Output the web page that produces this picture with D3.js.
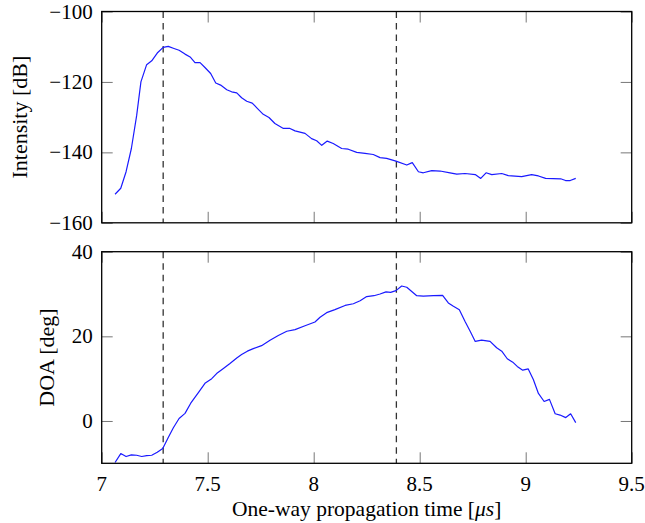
<!DOCTYPE html>
<html>
<head>
<meta charset="utf-8">
<script src="https://cdn.jsdelivr.net/npm/d3@7"></script>
<style>
  body { margin: 0; background: #fff; }
  text { font-family: "Liberation Serif", "Times New Roman", serif; fill: #000; }
</style>
</head>
<body>
<svg id="chart" width="645" height="523"></svg>
<script>
// top panel: intensity vs one-way time
const intensityTime = [7.063, 7.09, 7.115, 7.14, 7.165, 7.185, 7.212, 7.236, 7.262, 7.29,
  7.314, 7.341, 7.365, 7.393, 7.417, 7.44, 7.464, 7.487, 7.514, 7.538,
  7.561, 7.59, 7.613, 7.637, 7.66, 7.684, 7.71, 7.734, 7.762, 7.789,
  7.817, 7.857, 7.888, 7.912, 7.959, 7.99, 8.014, 8.038, 8.064, 8.092,
  8.132, 8.163, 8.203, 8.242, 8.281, 8.313, 8.344, 8.388, 8.439, 8.465,
  8.494, 8.517, 8.557, 8.596, 8.643, 8.675, 8.714, 8.762, 8.788, 8.813,
  8.84, 8.887, 8.918, 8.981, 9.028, 9.06, 9.094, 9.165, 9.188, 9.21, 9.236];
const intensityDb = [-151.9, -150.2, -145.5, -138.9, -129.5, -120, -115.1, -114, -111.8, -110.2,
  -109.9, -110.5, -111, -112.1, -112.9, -114.5, -114.5, -115.9, -117.6, -120.3,
  -120.9, -122.2, -122.8, -123.1, -124.5, -125.5, -126, -127.5, -129.2, -130.1,
  -131.8, -133.2, -133.2, -133.9, -134.6, -136.1, -136.7, -138, -136.8, -137.5,
  -138.9, -139.1, -140, -140.3, -140.6, -141.5, -141.7, -142.5, -143.6, -142.9,
  -145.5, -145.8, -145.2, -145.3, -145.8, -146.2, -146, -146.3, -147.4, -145.8,
  -146.3, -146, -146.6, -146.9, -146.3, -146.7, -147.4, -147.5, -148, -148, -147.4];

// bottom panel: direction of arrival
const doaTime = [7.063, 7.09, 7.115, 7.14, 7.165, 7.189, 7.212, 7.236, 7.262, 7.288,
  7.314, 7.338, 7.365, 7.393, 7.42, 7.456, 7.487, 7.519, 7.542, 7.574,
  7.605, 7.637, 7.66, 7.687, 7.715, 7.754, 7.794, 7.833, 7.873, 7.912,
  7.959, 8.006, 8.03, 8.061, 8.1, 8.148, 8.187, 8.219, 8.25, 8.284,
  8.313, 8.341, 8.363, 8.388, 8.415, 8.439, 8.486, 8.517, 8.565, 8.608,
  8.635, 8.659, 8.687, 8.714, 8.738, 8.762, 8.792, 8.832, 8.863, 8.887,
  8.913, 8.939, 8.96, 8.986, 9.012, 9.036, 9.06, 9.087, 9.112, 9.139,
  9.162, 9.189, 9.212, 9.236];
const doaDeg = [-9.8, -7.7, -8.4, -8.0, -8.1, -8.4, -8.2, -8.1, -7.4, -6.5,
  -3.9, -1.6, 0.6, 1.8, 4.2, 6.7, 8.9, 10.0, 11.2, 12.4,
  13.6, 14.9, 15.7, 16.5, 17.1, 17.8, 19.1, 20.2, 21.2, 21.6,
  22.5, 23.4, 24.5, 25.6, 26.3, 27.3, 27.7, 28.4, 29.4, 29.6,
  30.0, 30.5, 30.4, 30.8, 31.9, 31.6, 29.6, 29.5, 29.6, 29.7,
  27.9, 27.1, 26.3, 23.5, 21.2, 18.8, 19.1, 18.8, 17.3, 16.5,
  14.7, 13.9, 12.9, 12.0, 12.3, 9.8, 6.5, 4.6, 5.1, 1.7,
  1.4, 0.8, 1.7, -0.4];

const markerTimes = [7.29, 8.39];
const xTicks = [7, 7.5, 8, 8.5, 9, 9.5];
const intensityTicks = [-160, -140, -120, -100];
const doaTicks = [0, 20, 40];

const left = 101.7, right = 631.7;
const tickLen = 11;

const svg = d3.select("#chart");

const x = d3.scaleLinear().domain([7, 9.5]).range([left, right]);

const panels = [
  {top: 11.5, bottom: 222.8, domain: [-160, -100], ticks: intensityTicks,
   xs: intensityTime, ys: intensityDb, label: "Intensity [dB]", labelX: 19, showX: false},
  {top: 251.7, bottom: 463.3, domain: [-10, 40], ticks: doaTicks,
   xs: doaTime, ys: doaDeg, label: "DOA [deg]", labelX: 46, showX: true}
];

panels.forEach(function (p, idx) {
  const y = d3.scaleLinear().domain(p.domain).range([p.bottom, p.top]);
  const g = svg.append("g");
  const clipId = "clip" + idx;

  g.append("clipPath").attr("id", clipId)
    .append("rect")
    .attr("x", left).attr("y", p.top)
    .attr("width", right - left).attr("height", p.bottom - p.top);

  // ticks on all four sides, pointing inward
  g.append("g")
    .attr("transform", "translate(0," + p.bottom + ")")
    .call(d3.axisBottom(x).tickValues(xTicks).tickSizeInner(-tickLen).tickSizeOuter(0).tickFormat(""))
    .call(a => a.select(".domain").remove());
  g.append("g")
    .attr("transform", "translate(0," + p.top + ")")
    .call(d3.axisTop(x).tickValues(xTicks).tickSizeInner(-tickLen).tickSizeOuter(0).tickFormat(""))
    .call(a => a.select(".domain").remove());
  g.append("g")
    .attr("transform", "translate(" + left + ",0)")
    .call(d3.axisLeft(y).tickValues(p.ticks).tickSizeInner(-tickLen).tickSizeOuter(0).tickFormat(""))
    .call(a => a.select(".domain").remove());
  g.append("g")
    .attr("transform", "translate(" + right + ",0)")
    .call(d3.axisRight(y).tickValues(p.ticks).tickSizeInner(-tickLen).tickSizeOuter(0).tickFormat(""))
    .call(a => a.select(".domain").remove());
  g.selectAll(".tick line").attr("stroke", "#777").attr("stroke-width", 1);

  // y tick labels
  g.selectAll(".ylab")
    .data(p.ticks)
    .enter()
    .append("text")
    .attr("class", "ylab")
    .attr("x", left - 9)
    .attr("y", d => y(d) + 7)
    .attr("text-anchor", "end")
    .attr("font-size", 21)
    .text(d => d < 0 ? "\u2212" + Math.abs(d) : d);

  if (p.showX) {
    g.selectAll(".xlab")
      .data(xTicks)
      .enter()
      .append("text")
      .attr("class", "xlab")
      .attr("x", d => x(d))
      .attr("y", p.bottom + 27.5)
      .attr("text-anchor", "middle")
      .attr("font-size", 21)
      .text(d => d);
  }

  // dashed markers
  g.selectAll(".marker")
    .data(markerTimes)
    .enter()
    .append("line")
    .attr("x1", d => x(d)).attr("x2", d => x(d))
    .attr("y1", p.top).attr("y2", p.bottom)
    .attr("stroke", "#333")
    .attr("stroke-width", 1.3)
    .attr("stroke-dasharray", "6.5,5");

  const line = d3.line()
    .x(d => x(d[0]))
    .y(d => y(d[1]));

  g.append("path")
    .datum(d3.zip(p.xs, p.ys))
    .attr("clip-path", "url(#" + clipId + ")")
    .attr("fill", "none")
    .attr("stroke", "#1a1aff")
    .attr("stroke-width", 1.2)
    .attr("stroke-linejoin", "round")
    .attr("d", line);

  // frame
  g.append("rect")
    .attr("x", left).attr("y", p.top)
    .attr("width", right - left).attr("height", p.bottom - p.top)
    .attr("fill", "none")
    .attr("stroke", "#000")
    .attr("stroke-width", 1.3);

  g.append("text")
    .attr("transform", "translate(" + p.labelX + "," + ((p.top + p.bottom) / 2) + ") rotate(-90)")
    .attr("text-anchor", "middle")
    .attr("dy", "0.35em")
    .attr("font-size", 22)
    .text(p.label);
});

svg.append("text")
  .attr("x", (left + right) / 2)
  .attr("y", 516)
  .attr("text-anchor", "middle")
  .attr("font-size", 21.5)
  .html("One-way propagation time [<tspan font-style=\"italic\">\u03bcs</tspan>]");
</script>
</body>
</html>
